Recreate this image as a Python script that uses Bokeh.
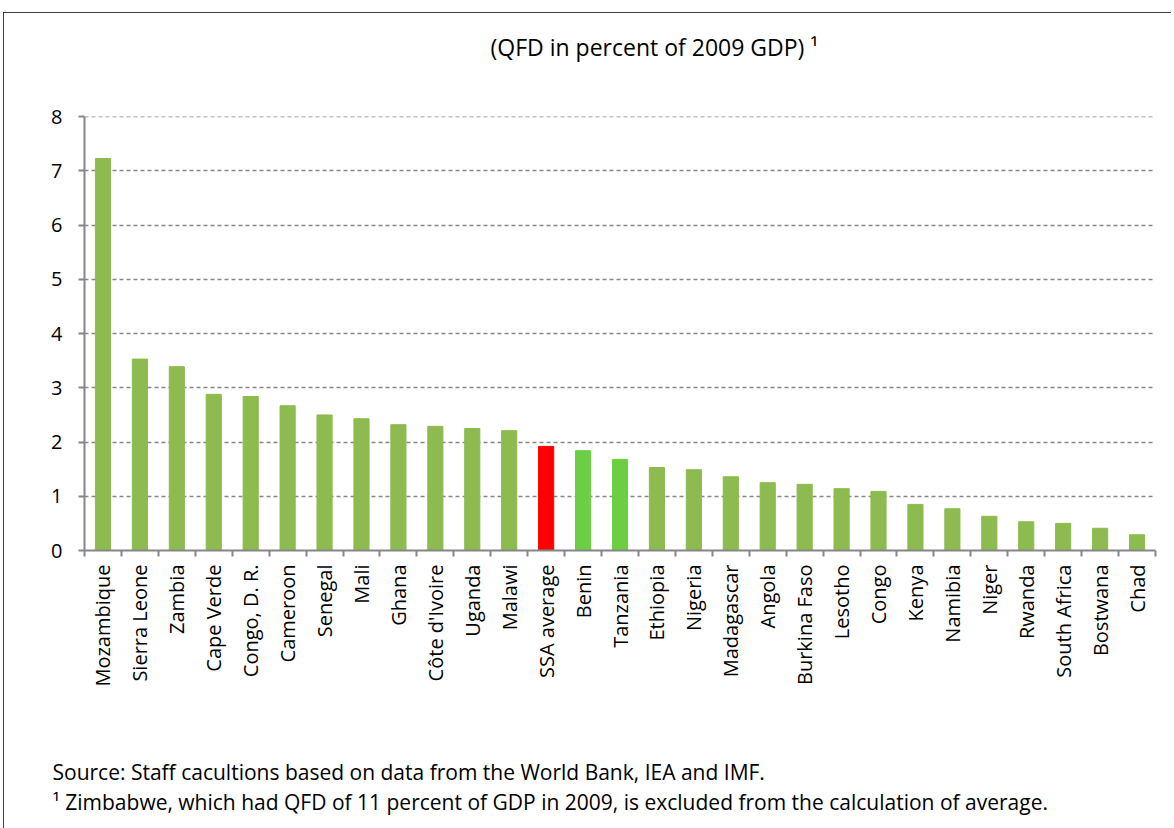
from bokeh.plotting import figure
from bokeh.models import (Range1d, FixedTicker, CustomJSTickFormatter, Title, ColumnDataSource)
from bokeh.embed import file_html
from bokeh.resources import INLINE
import math

countries = ["Mozambique", "Sierra Leone", "Zambia", "Cape Verde", "Congo, D. R.", "Cameroon",
             "Senegal", "Mali", "Ghana", "Côte d'Ivoire", "Uganda", "Malawi", "SSA average",
             "Benin", "Tanzania", "Ethiopia", "Nigeria", "Madagascar", "Angola", "Burkina Faso",
             "Lesotho", "Congo", "Kenya", "Namibia", "Niger", "Rwanda", "South Africa",
             "Bostwana", "Chad"]
qfd = [7.23, 3.53, 3.39, 2.88, 2.84, 2.67, 2.50, 2.43, 2.32, 2.29, 2.25, 2.21, 1.92,
       1.84, 1.68, 1.53, 1.49, 1.36, 1.25, 1.22, 1.14, 1.09, 0.85, 0.77, 0.63, 0.53,
       0.50, 0.41, 0.29]
kind = ["country"] * 12 + ["average", "highlight", "highlight"] + ["country"] * 14
palette = {"country": "#8DBB4F", "average": "#FF0000", "highlight": "#6CCF43"}
y_ticks = [0, 1, 2, 3, 4, 5, 6, 7, 8]

FONT = "Open Sans"
n = len(countries)
centers = [i + 0.5 for i in range(n)]
bounds = list(range(n + 1))

src = ColumnDataSource(dict(x=centers, top=qfd, color=[palette[k] for k in kind]))

p = figure(width=1168, height=816, output_backend="svg", toolbar_location=None,
           x_range=Range1d(0, n), y_range=Range1d(0, 8.004),
           min_border_left=81, min_border_right=16, min_border_top=104, min_border_bottom=278)
p.styles = {"outline": "2px solid black", "outline-offset": "-2px",
            "margin-left": "3px", "margin-top": "12px"}
p.outline_line_color = None
p.background_fill_color = "white"

p.vbar(x="x", top="top", bottom=0, width=0.41, color="color", source=src)

# x axis
p.xaxis.ticker = FixedTicker(ticks=centers, minor_ticks=bounds)
p.xaxis.formatter = CustomJSTickFormatter(args=dict(labels=countries),
                                          code="return labels[Math.floor(tick)];")
p.xaxis.major_label_orientation = math.pi / 2
p.xaxis.major_tick_line_color = None
p.xaxis.minor_tick_in = 0
p.xaxis.minor_tick_out = 6
p.xaxis.minor_tick_line_color = "#868686"
p.xaxis.minor_tick_line_width = 2
p.xaxis.axis_line_color = "#868686"
p.xaxis.axis_line_width = 2
p.xaxis.major_label_text_font = FONT
p.xaxis.major_label_text_font_size = "20px"
p.xaxis.major_label_text_color = "black"
p.xaxis.major_label_standoff = 8

# y axis
p.yaxis.ticker = FixedTicker(ticks=y_ticks)
p.yaxis.axis_line_color = "#868686"
p.yaxis.axis_line_width = 2
p.yaxis.major_tick_line_color = "#868686"
p.yaxis.major_tick_line_width = 2
p.yaxis.major_tick_in = 0
p.yaxis.major_tick_out = 6
p.yaxis.minor_tick_line_color = None
p.yaxis.major_label_text_font = FONT
p.yaxis.major_label_text_font_size = "20px"
p.yaxis.major_label_text_color = "black"
p.yaxis.major_label_standoff = 16

p.xgrid.grid_line_color = None
p.ygrid.grid_line_color = "#868686"
p.ygrid.grid_line_dash = "4 3"
p.ygrid.grid_line_width = 1.5

# title (spacer nearest the frame, then the title text)
p.add_layout(Title(text="\u00a0", text_font=FONT, text_font_size="20px",
                   standoff=8.0, text_color="white"), "above")
p.add_layout(Title(text="(QFD in percent of 2009 GDP) \u00b9", text_font=FONT,
                   text_font_size="23px", text_font_style="normal", align="left",
                   vertical_align="middle", offset=406, standoff=30.5, text_color="black"), "above")

# footnotes (spacer after the axis, then two lines)
p.add_layout(Title(text="\u00a0", text_font=FONT, text_font_size="20px",
                   standoff=38, text_color="white"), "below")
p.add_layout(Title(text="Source: Staff cacultions based on data from the World Bank, IEA and IMF.",
                   text_font=FONT, text_font_size="21px", text_font_style="normal",
                   align="left", vertical_align="middle", offset=-32, standoff=0,
                   text_color="black"), "below")
p.add_layout(Title(text="\u00b9 Zimbabwe, which had QFD of 11 percent of GDP in 2009, is excluded from the calculation of average.",
                   text_font=FONT, text_font_size="21px", text_font_style="normal",
                   align="left", vertical_align="middle", offset=-32, standoff=0,
                   text_color="black"), "below")

open("out.html", "w").write(file_html(p, INLINE))
